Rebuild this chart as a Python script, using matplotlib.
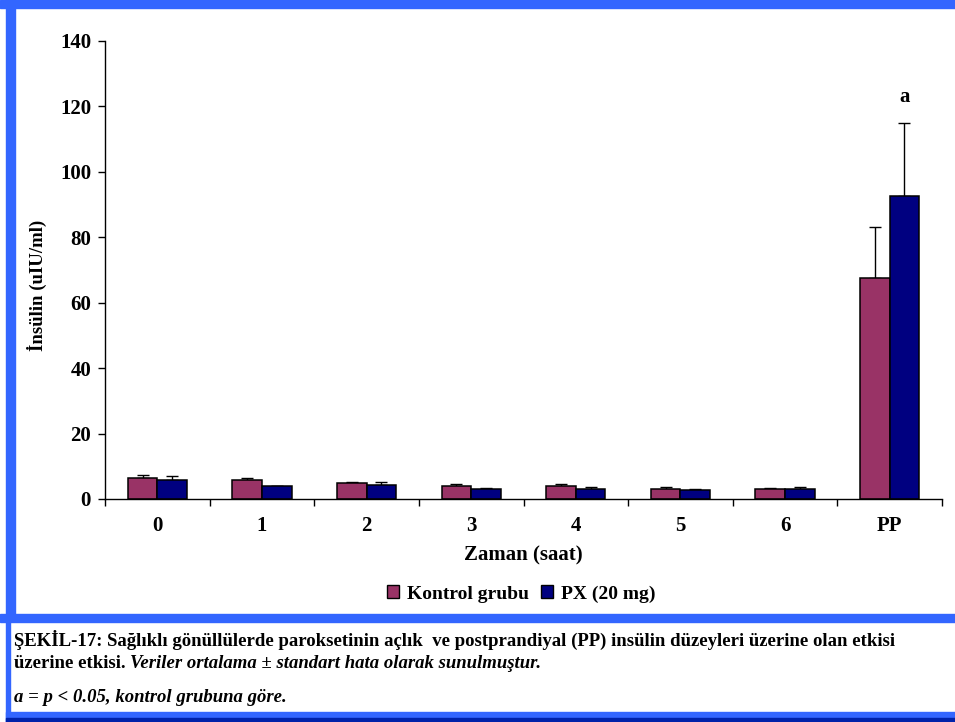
import matplotlib
matplotlib.use("Agg")
import matplotlib.pyplot as plt
import numpy as np
from matplotlib.patches import Patch, Rectangle

# data
categories = ["0", "1", "2", "3", "4", "5", "6", "PP"]
kontrol_mean = [6.4, 5.9, 4.8, 4.1, 4.1, 3.2, 3.2, 67.6]
kontrol_err = [1.0, 0.6, 0.5, 0.5, 0.5, 0.6, 0.1, 15.5]
px_mean = [5.9, 3.9, 4.4, 3.1, 3.2, 2.9, 3.2, 92.6]
px_err = [1.1, 0.1, 0.9, 0.4, 0.6, 0.1, 0.6, 22.4]
series_names = ["Kontrol grubu", "PX (20 mg)"]
sig_label = "a"

kontrol_color = "#993366"
px_color = "#000080"
frame_blue = "#3366FF"

plt.rcParams['font.family'] = ['Liberation Serif', 'DejaVu Serif']
plt.rcParams['font.weight'] = 'bold'

W, H = 955, 722
fig = plt.figure(figsize=(W / 100, H / 100), dpi=100)
fig.patch.set_facecolor("white")

def px_rect(x0, y0, x1, y1, color):
    # rectangle given in pixel coords (origin top-left)
    fig.patches.append(Rectangle((x0 / W, 1 - y1 / H), (x1 - x0) / W, (y1 - y0) / H,
                                 transform=fig.transFigure, color=color, zorder=0))

# blue frame bands
px_rect(0, 0, W, 8, frame_blue)
px_rect(6, 0, 15, 615, frame_blue)
px_rect(0, 614, W, 622, frame_blue)
px_rect(6, 614, 10, 722, frame_blue)
px_rect(6, 712, W, 722, frame_blue)
px_rect(6, 718, W, 722, "#0022AA")

ax = fig.add_axes([105 / W, 1 - 499 / H, (942 - 105) / W, (499 - 41) / H])
ax.set_facecolor("none")

x = np.arange(len(categories))
w = 0.283
ax.bar(x - w / 2, kontrol_mean, w, color=kontrol_color, edgecolor="black", linewidth=1.1,
       label=series_names[0], zorder=2)
ax.bar(x + w / 2, px_mean, w, color=px_color, edgecolor="black", linewidth=1.1,
       label=series_names[1], zorder=2)
ax.errorbar(x - w / 2, kontrol_mean, yerr=[np.zeros(len(x)), kontrol_err], fmt="none",
            ecolor="black", elinewidth=1, capsize=4.5, capthick=1, zorder=1)
ax.errorbar(x + w / 2, px_mean, yerr=[np.zeros(len(x)), px_err], fmt="none",
            ecolor="black", elinewidth=1, capsize=4.5, capthick=1, zorder=1)

# significance mark above PP
ax.text(x[-1] + w / 2, 123, sig_label, ha="center", va="center", fontsize=15, fontweight="bold")

ax.set_xlim(-0.5, len(categories) - 0.5)
ax.set_ylim(0, 140)
ax.set_yticks(np.arange(0, 141, 20))
ax.tick_params(axis="y", direction="out", length=5, width=1, labelsize=15, pad=5)
ax.set_xticks(np.arange(-0.5, len(categories), 1))
ax.set_xticklabels([])
ax.set_xticks(x, minor=True)
ax.set_xticklabels(categories, minor=True)
ax.tick_params(axis="x", which="major", direction="out", length=5, width=1)
ax.tick_params(axis="x", which="minor", length=0, labelsize=15, pad=12)
for lab in ax.get_xticklabels(minor=True) + ax.get_yticklabels():
    lab.set_fontweight("bold")

for s in ["top", "right"]:
    ax.spines[s].set_visible(False)
ax.spines["left"].set_linewidth(1)
ax.spines["bottom"].set_linewidth(1)

fig.text(523 / W, 1 - 555 / H, "Zaman (saat)", ha="center", va="center", fontsize=15,
         fontweight="bold")
fig.text(37 / W, 1 - 285 / H, "İnsülin (uIU/ml)", ha="center", va="center", rotation=90,
         fontsize=13.5, fontweight="bold")

handles = [Patch(facecolor=kontrol_color, edgecolor="black", linewidth=1),
           Patch(facecolor=px_color, edgecolor="black", linewidth=1)]
fig.legend(handles, series_names, loc="center", bbox_to_anchor=(521 / W, 1 - 594 / H),
           ncol=2, frameon=False, prop={"size": 14, "weight": "bold"},
           handlelength=0.65, handleheight=0.65, handletextpad=0.4, columnspacing=0.6)

# caption
cap_size = 13.5
fig.text(14 / W, 1 - 646 / H,
         "ŞEKİL-17: Sağlıklı gönüllülerde paroksetinin açlık  ve postprandiyal (PP) insülin düzeyleri üzerine olan etkisi",
         ha="left", va="baseline", fontsize=cap_size, fontweight="bold")
t2 = fig.text(14 / W, 1 - 668 / H, "üzerine etkisi. ", ha="left", va="baseline",
              fontsize=cap_size, fontweight="bold")
ax.annotate("Veriler ortalama ± standart hata olarak sunulmuştur.", xy=(1, 0), xycoords=t2,
            ha="left", va="bottom", fontsize=cap_size, fontweight="bold", fontstyle="italic",
            annotation_clip=False)
fig.text(14 / W, 1 - 702 / H, "a = p < 0.05, kontrol grubuna göre.", ha="left", va="baseline",
         fontsize=cap_size, fontweight="bold", fontstyle="italic")

fig.savefig("out.png", dpi=100)
